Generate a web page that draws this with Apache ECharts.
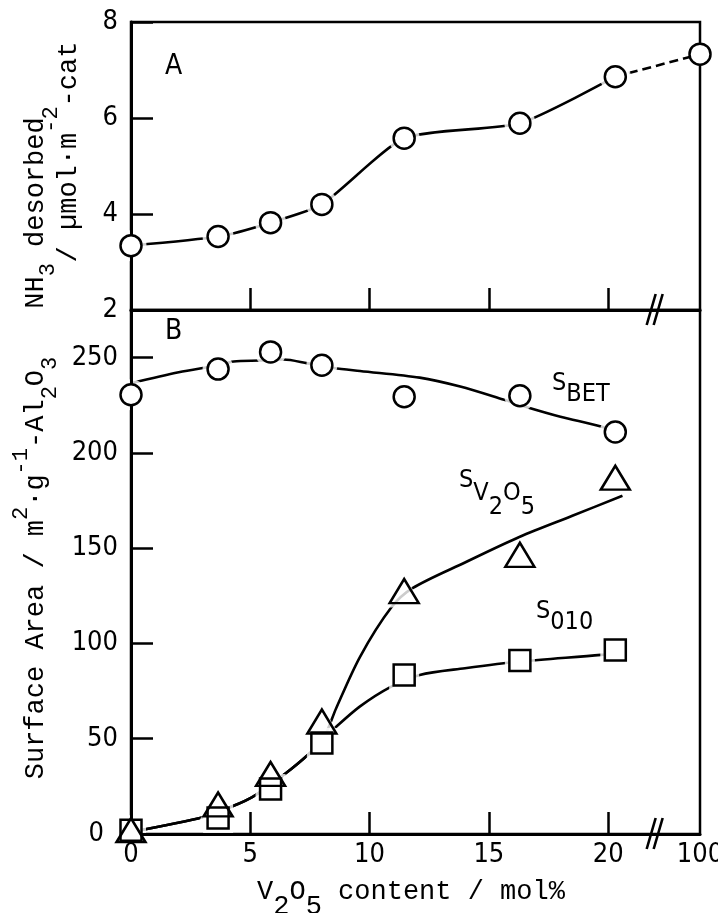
<!DOCTYPE html>
<html>
<head>
<meta charset="utf-8">
<script src="https://cdn.jsdelivr.net/npm/echarts@6/dist/echarts.min.js"></script>
<style>html,body{margin:0;padding:0;background:#fff}#c{width:718px;height:913px}</style>
</head>
<body>
<div id="c"></div>
<script>
// ---------------- data ----------------
// Panel A : NH3 desorbed vs V2O5 content
const xContentA = [0, 3.65, 5.85, 8.0, 11.45, 16.3, 20.3, 100];
const nh3Desorbed = [3.34, 3.53, 3.82, 4.2, 5.58, 5.89, 6.86, 7.33];

// Panel B : surface areas vs V2O5 content
const xContentB = [0, 3.65, 5.85, 8.0, 11.45, 16.3, 20.3];
const sBET  = [230.5, 244, 253, 246, 229.5, 230, 211];
const sV2O5 = [2, 15.5, 31.5, 59, 127.5, 146.5, 187];
const s010  = [2, 8.4, 23.6, 47.8, 83.5, 91, 96.6];

// hand-drawn guide curves of panel B
const betCurveX  = [0, 2, 3.65, 4.3, 5.4, 6.4, 7.4, 8.5, 9.6, 12.1, 13.8, 15.6, 16.6, 18, 19.7, 20.3];
const betCurveY  = [236.5, 242.3, 246, 248, 248.5, 249, 247, 244.6, 243, 239.5, 234.8, 228, 224, 219, 213.8, 211];
const v2o5CurveX = [0, 3.1, 4.15, 5.1, 6.5, 7.5, 8.1, 8.6, 9.6, 10.9, 11.8, 14, 16.3, 18.5, 20.6];
const v2o5CurveY = [1, 9, 14, 19.5, 32, 42.5, 51, 66, 93, 118.7, 129, 142.5, 156, 167, 177.5];
const s010CurveX = [0, 3.1, 4.15, 5.1, 6.5, 7.5, 8.1, 8.55, 9.6, 10.85, 12.1, 14, 16.3, 19.7, 20.3];
const s010CurveY = [1, 9, 14, 19.5, 32, 42.5, 50, 55.7, 67, 77, 83.5, 87, 90.5, 94, 95];

// tick labels
const xTickValues = [0, 5, 10, 15, 20, 100];
const xTickLabels = ['0', '5', '10', '15', '20', '100'];
const yTicksA = [2, 4, 6, 8];
const yTicksB = [0, 50, 100, 150, 200, 250];

// ---------------- broken x axis ----------------
const X_END = 23.85;     // axis position standing for 100 mol% (after the break)
const BREAK_AT = 21.95;  // position of the "//" marks
function xPos(v) { return v >= 100 ? X_END : v; }
function pairs(xs, ys) { return xs.map((x, i) => [xPos(x), ys[i]]); }

const NARROW = "'Liberation Sans Narrow','DejaVu Sans Condensed',sans-serif";
const MONO = "'Liberation Mono','DejaVu Sans Mono',monospace";
const BLACK = '#000';

const chart = echarts.init(document.getElementById('c'));

function tok(family, size, pad) {
  return { fontFamily: family, fontSize: size, lineHeight: size, padding: [pad, 0, 0, 0], verticalAlign: 'top', fill: BLACK, color: BLACK };
}

const labelStyle = { color: BLACK, fontFamily: NARROW, fontSize: 27 };

function xAxisCfg(grid, showLabels) {
  const pos = xTickValues.map(xPos);
  return {
    gridIndex: grid, type: 'value', min: 0, max: X_END, z: 4,
    axisLine: { show: true, onZero: false, lineStyle: { color: BLACK, width: 3 } },
    axisTick: { show: true, inside: true, length: 22, customValues: [5, 10, 15, 20], lineStyle: { color: BLACK, width: 2.5 } },
    axisLabel: {
      show: showLabels, margin: 7, ...labelStyle, hideOverlap: false,
      customValues: pos,
      formatter: v => { const i = pos.findIndex(t => Math.abs(t - v) < 1e-6); return i >= 0 ? xTickLabels[i] : ''; }
    },
    splitLine: { show: false }
  };
}
function yAxisCfg(grid, min, max, ticks) {
  return {
    gridIndex: grid, type: 'value', min: min, max: max, z: 4,
    axisLine: { show: true, onZero: false, lineStyle: { color: BLACK, width: 3 } },
    axisTick: { show: true, inside: true, length: 22, customValues: ticks, lineStyle: { color: BLACK, width: 2.5 } },
    axisLabel: {
      show: true, margin: 13, ...labelStyle, customValues: ticks, hideOverlap: false,
      formatter: v => (grid === 1 && v === 0) ? '{z|0}' : String(v),
      rich: { z: { fontFamily: NARROW, fontSize: 27, color: BLACK, padding: [0, 14, 0, 0] } }
    },
    splitLine: { show: false }
  };
}

const lineStyle = { color: BLACK, width: 2.6 };
function curve(xi, yi, data, extra) {
  return Object.assign({ type: 'line', xAxisIndex: xi, yAxisIndex: yi, data: data, smooth: 0.3, symbol: 'none',
    lineStyle: lineStyle, z: 2, silent: true, animation: false }, extra || {});
}
function halo(xi, yi, data, symbol, size) {
  return { type: 'scatter', xAxisIndex: xi, yAxisIndex: yi, data: data, symbol: symbol, symbolSize: size,
    itemStyle: { color: '#fff', borderWidth: 0 }, z: 3, clip: false, silent: true, animation: false };
}
function markers(xi, yi, data, symbol, size, fill, z) {
  return { type: 'scatter', xAxisIndex: xi, yAxisIndex: yi, data: data, symbol: symbol, symbolSize: size,
    itemStyle: { color: fill, borderColor: BLACK, borderWidth: 2.5, opacity: 1 }, z: z || 5, clip: false, silent: true, animation: false };
}

const ptsA = pairs(xContentA, nh3Desorbed);
const solidA = ptsA.filter((p, i) => xContentA[i] < 100);
const dashedA = ptsA.slice(ptsA.length - 2);
const ptsBET = pairs(xContentB, sBET);
const ptsV = pairs(xContentB, sV2O5);
const pts010 = pairs(xContentB, s010);

const breakMarks = (gridX, gridY, yVal) => ({
  type: 'custom', xAxisIndex: gridX, yAxisIndex: gridY, data: [[BREAK_AT, yVal]], clip: false, z: 7, silent: true, animation: false,
  renderItem: (params, api) => {
    const p = api.coord([api.value(0), api.value(1)]);
    const mk = dx => ({ type: 'line', shape: { x1: p[0] + dx - 4.5, y1: p[1] + 15, x2: p[0] + dx + 4.5, y2: p[1] - 16 },
      style: { stroke: BLACK, lineWidth: 2.6 } });
    return { type: 'group', children: [mk(-3.5), mk(3.5)] };
  }
});

const MF = 27, MS = 22;
const monoRichY = { n: tok(MONO, MF, 12), sup: tok(MONO, MS, 0), sub: tok(MONO, MS, 29) };
const monoRichA1 = { n: tok(MONO, MF, 0), sub: tok(MONO, MS, 15) };
const monoRichA2 = { n: tok(MONO, MF, 15), sup: tok(MONO, MS, 0) };
const monoRichX = { n: tok(MONO, MF, 0), sub: tok(MONO, MF, 15) };
const sRich = { s: tok(NARROW, 25, 0), b1: tok(NARROW, 25, 11), b2: tok(NARROW, 25, 26) };
const sRichV = { s: tok(NARROW, 25, 0), b1: tok(NARROW, 25, 13), b2: tok(NARROW, 25, 27) };

function txt(x, y, text, rich, opts) {
  return Object.assign({ type: 'text', x: x, y: y, silent: true, z: 10,
    style: Object.assign({ text: text, rich: rich, fill: BLACK, fontFamily: MONO, fontSize: MF, align: 'left', verticalAlign: 'top' }, (opts && opts.style) || {}) },
    (opts && opts.el) || {});
}

chart.setOption({
  animation: false,
  backgroundColor: '#fff',
  grid: [
    { left: 131, top: 22, width: 569, height: 288, show: true, borderColor: BLACK, borderWidth: 2.5, backgroundColor: 'transparent', containLabel: false, outerBoundsMode: 'none' },
    { left: 131, top: 310, width: 569, height: 524, show: true, borderColor: BLACK, borderWidth: 2.5, backgroundColor: 'transparent', containLabel: false, outerBoundsMode: 'none' }
  ],
  xAxis: [xAxisCfg(0, false), xAxisCfg(1, true)],
  yAxis: [yAxisCfg(0, 2, 8, yTicksA), yAxisCfg(1, 0, 275, yTicksB)],
  series: [
    // panel A
    curve(0, 0, solidA, { smooth: 0.2 }),
    curve(0, 0, dashedA, { smooth: false, lineStyle: { color: BLACK, width: 2.6, type: [9, 5] } }),
    halo(0, 0, solidA, 'circle', 31),
    markers(0, 0, ptsA, 'circle', 21, '#fff'),
    breakMarks(0, 0, 2),
    // panel B
    curve(1, 1, pairs(betCurveX, betCurveY)),
    curve(1, 1, pairs(v2o5CurveX, v2o5CurveY)),
    curve(1, 1, pairs(s010CurveX, s010CurveY)),
    halo(1, 1, ptsBET, 'circle', 31),
    halo(1, 1, ptsV, 'triangle', [38, 33]),
    halo(1, 1, pts010, 'rect', 30),
    markers(1, 1, ptsBET, 'circle', 21, '#fff'),
    markers(1, 1, pts010, 'rect', 21, '#fff', 5),
    markers(1, 1, ptsV, 'triangle', [29, 24], 'rgba(255,255,255,0)', 6),
    breakMarks(1, 1, 0)
  ],
  graphic: [
    txt(165, 53, '{p|A}', { p: tok(NARROW, 28, 0) }),
    txt(165, 318, '{p|B}', { p: tok(NARROW, 28, 0) }),
    txt(552, 371, '{s|S}{b1|BET}', sRich),
    txt(459, 468, '{s|S}{b1|V}{b2|2}{b1|O}{b2|5}', sRichV),
    txt(536, 599, '{s|S}{b1|010}', sRich),
    // axis titles
    txt(411, 878, '{n|V}{sub|2}{n|O}{sub|5}{n| content / mol%}', monoRichX, { style: { align: 'center' } }),
    txt(10, 568, '{n|Surface Area / m}{sup|2}{n|·g}{sup|-1}{n|-Al}{sub|2}{n|O}{sub|3}', monoRichY,
        { style: { align: 'center' }, el: { rotation: Math.PI / 2 } }),
    txt(22, 213, '{n|NH}{sub|3}{n| desorbed}', monoRichA1, { style: { align: 'center' }, el: { rotation: Math.PI / 2 } }),
    txt(40, 152, '{n|/ µmol·m}{sup|-2}{n|-cat}', monoRichA2, { style: { align: 'center' }, el: { rotation: Math.PI / 2 } })
  ]
});
</script>
</body>
</html>
